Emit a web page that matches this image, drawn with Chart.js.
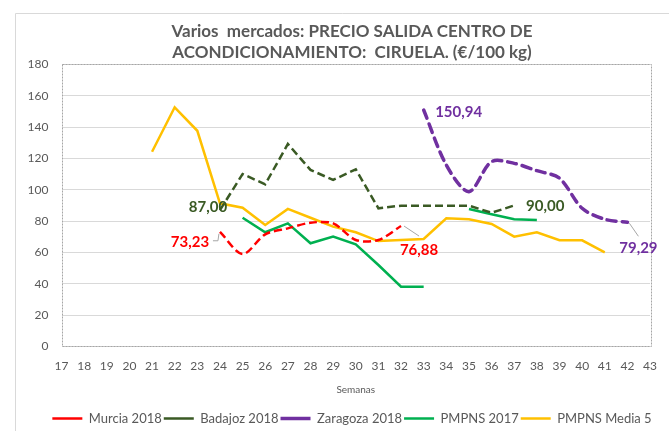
<!DOCTYPE html>
<html>
<head>
<meta charset="utf-8">
<script src="https://cdn.jsdelivr.net/npm/chart.js@4.4.1/dist/chart.umd.min.js"></script>
<style>
  html, body { margin: 0; padding: 0; background: #fff; overflow: hidden; }
  #chart { display: block; }
</style>
</head>
<body>
<canvas id="chart" width="669" height="431"></canvas>
<script>
// Data
const weeks = ['17', '18', '19', '20', '21', '22', '23', '24', '25', '26', '27', '28', '29', '30',
  '31', '32', '33', '34', '35', '36', '37', '38', '39', '40', '41', '42', '43'];

const murcia2018 = [null, null, null, null, null, null, null,
  73.23, 59.0, 71.6, 75.4, 79.0, 78.6, 68.0, 68.0, 76.88,
  null, null, null, null, null, null, null, null, null, null, null];

const badajoz2018 = [null, null, null, null, null, null, null,
  87.00, 110.1, 103.5, 129.3, 112.7, 106.3, 113.1, 88.2, 89.9, 89.9, 89.9, 89.9, 85.4, 90.00,
  null, null, null, null, null, null];

const zaragoza2018 = [null, null, null, null, null, null, null, null, null, null, null, null, null, null, null, null,
  150.94, 115.8, 98.8, 118.0, 116.9, 112.2, 107.4, 88.2, 81.2, 79.29, null];

const pmpns2017 = [null, null, null, null, null, null, null, null,
  82.2, 72.9, 78.6, 65.9, 70.1, 65.2, 52.0, 38.2, 38.2, null, 87.8, 84.4, 81.2, 80.7,
  null, null, null, null, null];

const pmpnsMedia5 = [null, null, null, null,
  124.3, 152.7, 137.7, 91.4, 88.6, 77.6, 87.8, 82.2, 76.5, 72.9, 67.3, 68.0, 68.6,
  81.8, 81.2, 78.2, 70.1, 72.9, 67.8, 67.8, 60.1, null, null];

const yTicks = [0, 20, 40, 60, 80, 100, 120, 140, 160, 180];

const titleLines = ['Varios  mercados: PRECIO SALIDA CENTRO DE', 'ACONDICIONAMIENTO:  CIRUELA. (€/100 kg)'];

const RED = '#FF0000';
const DARK_GREEN = '#3A5A24';
const PURPLE = '#7030A0';
const GREEN = '#00B050';
const YELLOW = '#FFC000';
const TEXT = '#595959';
const FONT = 'Lato, "Open Sans", sans-serif';

Chart.defaults.font.family = FONT;
Chart.defaults.color = TEXT;

// value labels shown on the chart (dataset index, week, offset of label centre from the point)
const valueLabels = [
  { ds: 0, week: '24', dx: -30, dy: 10, color: RED, leader: [[-7, 9], [-2, 9], [-1, 2]] },
  { ds: 0, week: '32', dx: 18, dy: 24, color: RED, leader: [[3, 0], [18, 10]] },
  { ds: 1, week: '24', dx: -12, dy: -3, color: DARK_GREEN },
  { ds: 1, week: '37', dx: 31, dy: 1, color: DARK_GREEN },
  { ds: 2, week: '33', dx: 35, dy: 2, color: PURPLE },
  { ds: 2, week: '42', dx: 11, dy: 26, color: PURPLE, leader: [[2, 1], [11, 14]] }
];

const framePlugin = {
  id: 'frame',
  afterLayout(chart) {
    // let the y tick labels run into the left padding instead of being clipped
    chart.scales.y.left = 0;
  },
  beforeDraw(chart) {
    const ctx = chart.ctx;
    ctx.save();
    ctx.strokeStyle = '#D9D9D9';
    ctx.lineWidth = 1;
    ctx.beginPath();
    ctx.moveTo(15.5, 431);
    ctx.lineTo(15.5, 13.5);
    ctx.lineTo(669, 13.5);
    ctx.stroke();
    ctx.restore();
  },
  beforeDatasetsDraw(chart) {
    // dotted plot-area border
    const { ctx, chartArea: a } = chart;
    ctx.save();
    ctx.strokeStyle = '#A6A6A6';
    ctx.lineWidth = 1;
    ctx.setLineDash([2, 1]);
    ctx.strokeRect(Math.round(a.left) + 0.5, Math.round(a.top) + 0.5,
      Math.round(a.right - a.left), Math.round(a.bottom - a.top));
    ctx.restore();
  }
};

const valueLabelPlugin = {
  id: 'valueLabels',
  afterDatasetsDraw(chart) {
    const ctx = chart.ctx;
    ctx.save();
    valueLabels.forEach(l => {
      const idx = weeks.indexOf(l.week);
      const pt = chart.getDatasetMeta(l.ds).data[idx];
      const v = chart.data.datasets[l.ds].data[idx];
      if (l.leader) {
        ctx.strokeStyle = '#A6A6A6';
        ctx.lineWidth = 1;
        ctx.setLineDash([]);
        ctx.beginPath();
        l.leader.forEach((p, i) => {
          if (i === 0) ctx.moveTo(pt.x + p[0], pt.y + p[1]);
          else ctx.lineTo(pt.x + p[0], pt.y + p[1]);
        });
        ctx.stroke();
      }
      ctx.fillStyle = l.color;
      ctx.font = 'bold 15px ' + FONT;
      ctx.textAlign = 'center';
      ctx.textBaseline = 'middle';
      ctx.fillText(v.toFixed(2).replace('.', ','), pt.x + l.dx, pt.y + l.dy);
    });
    ctx.restore();
  }
};

new Chart(document.getElementById('chart'), {
  type: 'line',
  data: {
    labels: weeks,
    datasets: [
      { label: 'Murcia 2018', data: murcia2018, borderColor: RED, backgroundColor: RED,
        borderWidth: 2.5, borderDash: [8, 4], tension: 0.3 },
      { label: 'Badajoz 2018', data: badajoz2018, borderColor: DARK_GREEN, backgroundColor: DARK_GREEN,
        borderWidth: 2.5, borderDash: [8, 4] },
      { label: 'Zaragoza 2018', data: zaragoza2018, borderColor: PURPLE, backgroundColor: PURPLE,
        borderWidth: 3.5, borderDash: [9, 6], borderCapStyle: 'round', tension: 0.3 },
      { label: 'PMPNS 2017', data: pmpns2017, borderColor: GREEN, backgroundColor: GREEN,
        borderWidth: 2.5 },
      { label: 'PMPNS Media 5', data: pmpnsMedia5, borderColor: YELLOW, backgroundColor: YELLOW,
        borderWidth: 2.5 }
    ]
  },
  options: {
    responsive: false,
    animation: false,
    spanGaps: false,
    elements: { point: { radius: 0, hoverRadius: 0 } },
    layout: { padding: { left: 36, right: 1, top: 0, bottom: -4 } },
    plugins: {
      title: {
        display: true,
        text: titleLines,
        color: TEXT,
        font: { size: 17, weight: 'bold', lineHeight: 1.235 },
        padding: { top: 21.5, bottom: 1 }
      },
      legend: {
        position: 'bottom',
        labels: {
          usePointStyle: true,
          pointStyle: 'line',
          pointStyleWidth: 30,
          padding: 2,
          color: TEXT,
          font: { size: 13 }
        }
      },
      tooltip: { enabled: false }
    },
    scales: {
      x: {
        grid: { display: false, drawTicks: false },
        border: { display: false },
        ticks: { color: TEXT, font: { size: 12 }, padding: 12, maxRotation: 0, autoSkip: false },
        title: { display: true, text: 'Semanas', color: TEXT, font: { size: 10 }, padding: { top: 0, bottom: 14.5 } },
        afterFit(scale) { scale.height = 63.5; }
      },
      y: {
        min: 0,
        max: 180,
        afterBuildTicks(scale) { scale.ticks = yTicks.map(v => ({ value: v })); },
        grid: { color: '#D9D9D9', drawTicks: false },
        border: { display: false },
        ticks: { color: TEXT, font: { size: 12 }, padding: 13 },
        afterFit(scale) { scale.width = 25.5; }
      }
    }
  },
  plugins: [framePlugin, valueLabelPlugin]
});
</script>
</body>
</html>
